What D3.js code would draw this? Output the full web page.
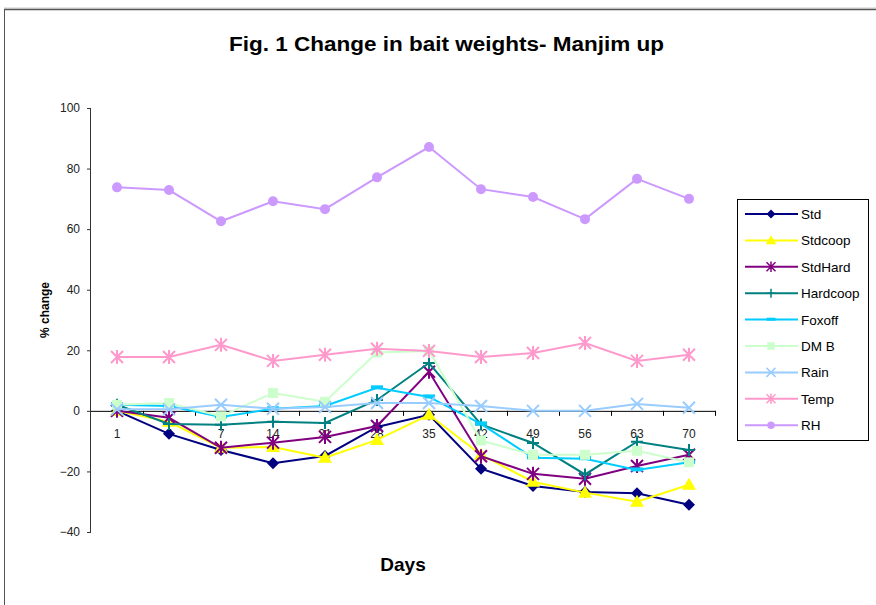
<!DOCTYPE html>
<html><head><meta charset="utf-8">
<script src="https://cdn.jsdelivr.net/npm/d3@7"></script>
<style>body{margin:0;background:#fff}svg{display:block}</style>
</head><body>
<script>
const days = ["1","4","7","14","21","28","35","42","49","56","63","70"];
const yTicks = [-40,-20,0,20,40,60,80,100];
const seriesNames = ["Std","Stdcoop","StdHard","Hardcoop","Foxoff","DM B","Rain","Temp","RH"];
const Std      = [0,-7.6,-12.9,-17.3,-14.9,-5.3,-1.3,-19.1,-24.8,-26.8,-27.2,-31];
const Stdcoop  = [0,-3.6,-12.2,-11.9,-15.5,-9.6,-1.3,-14.5,-23.4,-27,-30,-24.4];
const StdHard  = [0,-2.3,-12.2,-10.5,-8.6,-5,12.9,-15,-20.8,-22.4,-18.2,-14.5];
const Hardcoop = [2,-4.3,-4.6,-3.6,-4,3.6,15.8,-4.5,-10.6,-21,-10.2,-12.9];
const Foxoff   = [2,1.6,-2,0.7,1.6,7.6,4.6,-4.3,-15.5,-15.8,-19.5,-17];
const DMB      = [2,2.6,-1.8,5.9,3,19.3,19.8,-9.8,-14.5,-14.5,-13.2,-17];
const Rain     = [0.5,0.5,2,0.7,1.3,2.6,2.6,1.6,0,0,2.3,1];
const Temp     = [17.8,17.8,21.8,16.5,18.5,20.5,19.8,17.8,19.1,22.4,16.5,18.5];
const RH       = [73.8,72.9,62.6,69.2,66.6,77.1,87.1,73.2,70.6,63.3,76.6,70];
const seriesValues = [Std,Stdcoop,StdHard,Hardcoop,Foxoff,DMB,Rain,Temp,RH];
const colors = ["#000080","#FFFF00","#800080","#008080","#00CCFF","#CCFFCC","#99CCFF","#FF99CC","#CC99FF"];
const markers = ["diamond","triangle","star","plus","dash","square","cross","star","circle"];

const W=876,H=605;
const FONT="Liberation Sans, Arial, sans-serif";
const svg=d3.select("body").append("svg").attr("width",W).attr("height",H);
svg.append("rect").attr("width",W).attr("height",H).attr("fill","#fff");
// frame
svg.append("line").attr("x1",4).attr("x2",W).attr("y1",8).attr("y2",8).attr("stroke","#c8c8c8").attr("stroke-width",1);
svg.append("line").attr("x1",4).attr("x2",W).attr("y1",9.5).attr("y2",9.5).attr("stroke","#555").attr("stroke-width",1.5);
svg.append("line").attr("x1",4.5).attr("x2",4.5).attr("y1",9).attr("y2",H).attr("stroke","#555").attr("stroke-width",1);

const x=d3.scaleBand().domain(days).range([91,715]);
const y=d3.scaleLinear().domain([-40,100]).range([532,108]);
const cx=d=>x(d)+x.bandwidth()/2;

// title
svg.append("text").attr("x",229).attr("y",51)
  .attr("font-family",FONT).attr("font-weight","bold").attr("font-size",20)
  .attr("textLength",435).attr("lengthAdjust","spacingAndGlyphs")
  .text("Fig. 1 Change in bait weights- Manjim up");
svg.append("text").attr("x",403).attr("y",571).attr("text-anchor","middle")
  .attr("font-family",FONT).attr("font-weight","bold").attr("font-size",19)
  .text("Days");
svg.append("text").attr("transform","translate(49,310) rotate(-90)").attr("text-anchor","middle")
  .attr("font-family",FONT).attr("font-weight","bold").attr("font-size",12)
  .text("% change");

// y axis
const yAxis=svg.append("g").attr("transform","translate(91,0)")
  .call(d3.axisLeft(y).tickValues(yTicks).tickSize(4).tickPadding(7));
yAxis.select(".domain").attr("stroke","#333").attr("d","M-0.5,532.5V108.5");
yAxis.selectAll(".tick line").attr("stroke","#333");
yAxis.selectAll("text").attr("font-family",FONT).attr("font-size",12).attr("fill","#222");

// x axis at zero
const x0=y(0);
const xg=svg.append("g");
xg.append("line").attr("x1",91).attr("x2",716).attr("y1",x0+0.5).attr("y2",x0+0.5).attr("stroke","#000");
const bounds=days.map(d=>x(d)).concat([x(days[days.length-1])+x.bandwidth()]);
xg.selectAll(".xt").data(bounds.slice(1)).join("line").attr("x1",d=>Math.round(d)+0.5).attr("x2",d=>Math.round(d)+0.5)
  .attr("y1",x0).attr("y2",x0+5).attr("stroke","#000");
xg.selectAll(".xl").data(days).join("text").attr("x",d=>cx(d)).attr("y",x0+27).attr("text-anchor","middle")
  .attr("font-family",FONT).attr("font-size",12).attr("fill","#222").text(d=>d);

function drawMarker(g,type,color,px,py){
  const s=g.append("g").attr("transform",`translate(${px},${py})`);
  switch(type){
    case "diamond": s.append("path").attr("d","M0,-6L6,0L0,6L-6,0Z").attr("fill",color);break;
    case "triangle": s.append("path").attr("d","M0,-7L7,5L-7,5Z").attr("fill",color);break;
    case "square": s.append("rect").attr("x",-5).attr("y",-5).attr("width",10).attr("height",10).attr("fill",color);break;
    case "circle": s.append("circle").attr("r",5).attr("fill",color);break;
    case "dash": s.append("rect").attr("x",-6).attr("y",-2.5).attr("width",12).attr("height",4).attr("fill",color);break;
    case "plus": s.append("path").attr("d","M0,-6V6M-6,0H6").attr("stroke",color).attr("stroke-width",2);break;
    case "cross": s.append("path").attr("d","M-6,-6L6,6M-6,6L6,-6").attr("stroke",color).attr("stroke-width",2);break;
    case "star": s.append("path").attr("d","M-6,-6L6,6M-6,6L6,-6M0,-7V7").attr("stroke",color).attr("stroke-width",2);break;
  }
  return s;
}

const line=d3.line().x((d,i)=>cx(days[i])).y(d=>y(d));
seriesValues.forEach((vals,k)=>{
  const g=svg.append("g");
  g.append("path").attr("d",line(vals)).attr("fill","none").attr("stroke",colors[k]).attr("stroke-width",2);
  vals.forEach((v,i)=>drawMarker(g,markers[k],colors[k],cx(days[i]),y(v)));
});

// legend
const lg=svg.append("g");
lg.append("rect").attr("x",737.5).attr("y",199.5).attr("width",131).attr("height",241).attr("fill","#fff").attr("stroke","#000");
seriesNames.forEach((n,k)=>{
  const ly=214+k*26.4;
  lg.append("line").attr("x1",745).attr("x2",798).attr("y1",ly).attr("y2",ly).attr("stroke",colors[k]).attr("stroke-width",2);
  const m=drawMarker(lg,markers[k],colors[k],771,ly);
  m.attr("transform",`translate(771,${ly}) scale(0.75)`);
  lg.append("text").attr("x",801).attr("y",ly+5).attr("font-family",FONT)
    .attr("font-size",13.5).attr("fill","#000").text(n);
});
</script>
</body></html>
